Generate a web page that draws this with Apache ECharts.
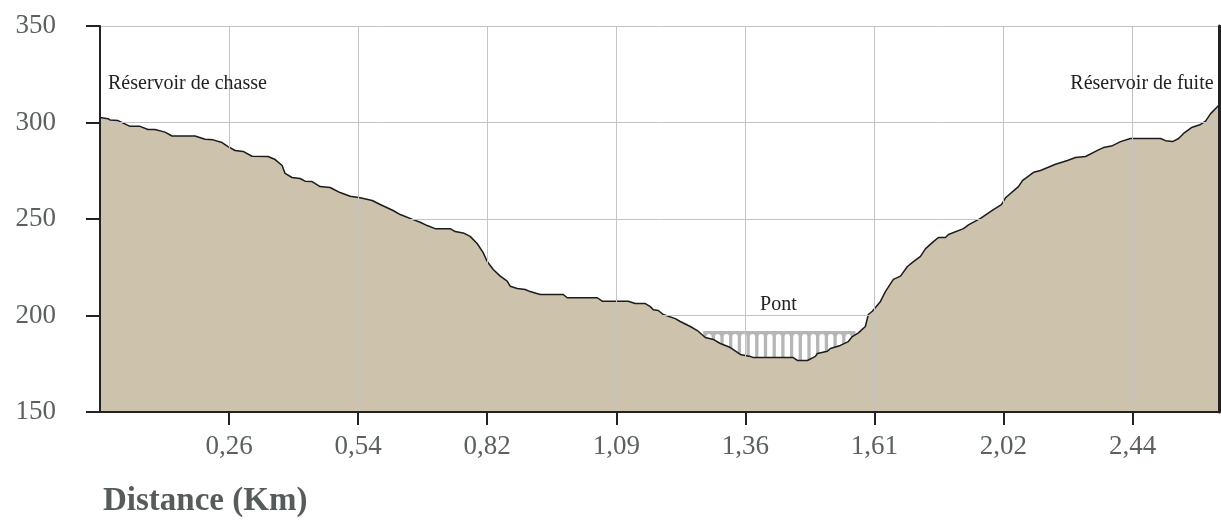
<!DOCTYPE html>
<html>
	<head>
		<meta charset="utf-8">
		<title>Profil en long</title>
		<script src="https://cdn.jsdelivr.net/npm/echarts@6/dist/echarts.min.js"></script>
	</head>
	<body style="margin:0">
		<div id="box" style="width: 1221px;height: 520px;"></div>
		<script>
			// position along the profile, in grid steps (one step = one labelled tick)
			var distance = [0, 0.062, 0.078, 0.14, 0.233, 0.31, 0.372, 0.426, 0.504, 0.558, 0.736, 0.814, 0.876, 0.946, 0.992,
				1.047, 1.109, 1.178, 1.302, 1.357, 1.411, 1.434, 1.488, 1.55, 1.589, 1.643, 1.705, 1.783, 1.86, 1.938,
				2.016, 2.109, 2.171, 2.271, 2.326, 2.426, 2.481, 2.535, 2.597, 2.713, 2.752, 2.814, 2.868, 2.922, 2.969,
				3.0, 3.047, 3.101, 3.155, 3.178, 3.233, 3.295, 3.333, 3.411, 3.589, 3.62, 3.853, 3.891, 4.093, 4.147,
				4.225, 4.264, 4.287, 4.326, 4.364, 4.457, 4.496, 4.574, 4.628, 4.69, 4.752, 4.806, 4.884, 4.961, 5.039,
				5.062, 5.372, 5.403, 5.481, 5.543, 5.558, 5.636, 5.659, 5.736, 5.798, 5.829, 5.876, 5.93, 5.953, 5.984,
				6.047, 6.085, 6.147, 6.202, 6.256, 6.295, 6.357, 6.395, 6.457, 6.496, 6.55, 6.574, 6.69, 6.729, 6.822,
				6.922, 6.984, 7.016, 7.116, 7.147, 7.233, 7.287, 7.403, 7.496, 7.558, 7.636, 7.736, 7.775, 7.845, 7.907,
				7.984, 8.217, 8.256, 8.31, 8.357, 8.403, 8.457, 8.527, 8.566, 8.605, 8.667]
			// altitude (m)
			var altitude = [302.6, 302, 301.3, 301, 298, 298, 296.4, 296.4, 295, 293, 293, 291.3, 291, 289.6, 287.5,
				285.5, 285, 282.5, 282.4, 280.8, 277.7, 273.6, 271.5, 271, 269.6, 269.4, 266.8, 266.3, 263.7, 261.8,
				261, 259.6, 257.5, 254.4, 252.3, 249.7, 248.3, 246.6, 245, 245, 243.5, 242.8, 241, 237.3, 232.6,
				228, 223.8, 220.4, 217.8, 215.2, 214, 213.5, 212.4, 210.9, 210.9, 209.2, 209.2, 207.4, 207.4, 206.2,
				206.2, 204.6, 203, 202.6, 200.5, 198.4, 196.9, 194.3, 192.2, 188.6, 187.6, 185.5, 183.4, 179.8, 178.8,
				178.2, 178.2, 176.7, 176.7, 178.8, 180.3, 181.5, 182.9, 184.5, 186.5, 189.1, 191, 194.3, 200.5, 202.2,
				207.3, 212.4, 218.7, 220.4, 225.4, 227.5, 230.6, 234.5, 238.3, 240.4, 240.4, 242, 245, 247, 250.3,
				254.9, 257.5, 261, 266.8, 269.9, 274.2, 275.1, 278.4, 280.3, 281.9, 282.4, 285.8, 287, 288, 290.1,
				291.7, 291.7, 290.6, 290.1, 291.7, 294.8, 297.4, 299, 300.7, 304.6, 308.8]

			var tickPos = [1, 2, 3, 4, 5, 6, 7, 8]
			var tickLabels = ['0,26', '0,54', '0,82', '1,09', '1,36', '1,61', '2,02', '2,44']

			// bridge: start, end, deck altitude
			var bridge = [[4.674, 5.853, 192]]

			// text notes: position, altitude, alignment
			var notes = [
				{ text: 'Réservoir de chasse', at: [0.062, 320.2], align: 'left' },
				{ text: 'Réservoir de fuite', at: [8.628, 320.2], align: 'right' },
				{ text: 'Pont', at: [5.256, 205.7], align: 'center' }
			]

			var serif = 'Liberation Serif'
			var profile = []
			for (var i = 0; i < distance.length; i++) {
				profile.push([distance[i], altitude[i]])
			}

			var mCharts = echarts.init(document.querySelector('#box'))
			var option = {
				animation: false,
				title: {
					text: 'Distance (Km)',
					left: 98,
					top: 480,
					textStyle: { fontFamily: serif, fontSize: 33, fontWeight: 'bold', color: '#565b5b' }
				},
				grid: { left: 100, right: 2, top: 26, bottom: 108, containLabel: false },
				xAxis: {
					type: 'value', min: 0, max: 8.67, interval: 1, z: 3,
					axisLine: { lineStyle: { color: '#222', width: 2 } },
					axisTick: { customValues: tickPos, length: 13, lineStyle: { color: '#222', width: 2 } },
					axisLabel: {
						customValues: tickPos, margin: 21,
						fontFamily: serif, fontSize: 27, color: '#5b6060',
						formatter: function (v) { return tickLabels[Math.round(v) - 1] }
					},
					splitLine: { show: true, lineStyle: { color: '#c4c4c4', width: 1 } }
				},
				yAxis: [
					{
						type: 'value', min: 150, max: 350, interval: 50, z: 3,
						axisLine: { show: true, lineStyle: { color: '#222', width: 2 } },
						axisTick: { show: true, length: 14, lineStyle: { color: '#222', width: 2 } },
						axisLabel: { margin: 44, fontFamily: serif, fontSize: 27, color: '#5b6060' },
						splitLine: { lineStyle: { color: '#c4c4c4', width: 1 } }
					},
					{
						type: 'value', min: 150, max: 350, position: 'right', z: 3,
						axisLine: { show: true, lineStyle: { color: '#222', width: 3 } },
						axisTick: { show: false }, axisLabel: { show: false }, splitLine: { show: false }
					}
				],
				series: [
					{
						// le pont, dessine sous le terrain
						type: 'custom',
						z: 1,
						data: bridge,
						encode: { x: [0, 1], y: 2 },
						renderItem: function (params, api) {
							var a = api.coord([api.value(0), api.value(2)])
							var b = api.coord([api.value(1), api.value(2)])
							var base = api.coord([api.value(0), 150])[1]
							var kids = [{
								type: 'rect',
								shape: { x: a[0], y: a[1], width: b[0] - a[0], height: base - a[1] },
								style: { fill: '#b6b6b6' }
							}]
							for (var x = a[0] + 3; x + 5.4 < b[0]; x += 8.7) {
								kids.push({
									type: 'rect',
									shape: { x: x, y: a[1] + 3, width: 5.4, height: base - a[1], r: [2.7, 2.7, 0, 0] },
									style: { fill: '#fff' }
								})
							}
							return { type: 'group', children: kids }
						}
					},
					{
						type: 'line',
						z: 2,
						data: profile,
						symbol: 'none',
						lineStyle: { color: '#1c1c1c', width: 1.5 },
						areaStyle: { color: '#cdc3ac', opacity: 1 },
						markPoint: {
							symbol: 'circle',
							symbolSize: 1,
							itemStyle: { color: 'rgba(0,0,0,0)' },
							data: notes.map(function (n) {
								return {
									coord: n.at,
									label: {
										show: true, position: 'inside', align: n.align, verticalAlign: 'middle',
										formatter: n.text, fontFamily: serif, fontSize: 20, color: '#222'
									}
								}
							})
						}
					}
				]
			}
			mCharts.setOption(option)
		</script>
	</body>
</html>
